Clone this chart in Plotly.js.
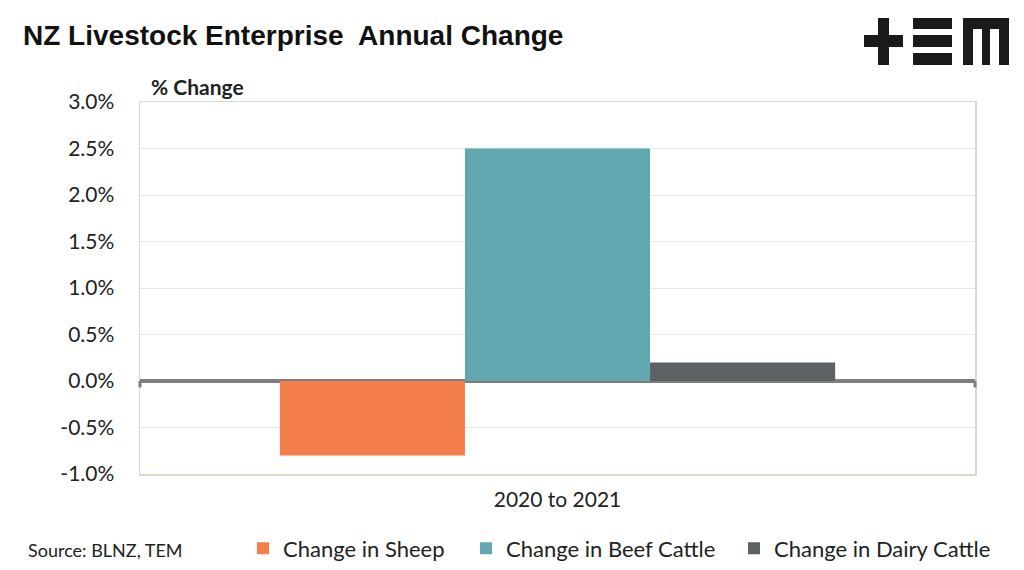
<!DOCTYPE html>
<html><head><meta charset="utf-8">
<script src="https://cdn.plot.ly/plotly-3.0.1.min.js"></script>
<style>body{margin:0;background:#fff}#c{width:1024px;height:570px;position:relative}#logo{position:absolute;left:0;top:0;pointer-events:none}</style>
</head><body>
<div id="c"><div id="plot" style="width:1024px;height:570px"></div>
<svg id="logo" width="1024" height="80" viewBox="0 0 1024 80">
<g fill="#1a1a1a">
<rect x="878" y="18" width="11" height="47"/>
<rect x="864" y="35" width="39" height="12"/>
<rect x="913" y="18" width="39" height="11"/>
<rect x="913" y="35" width="39" height="12"/>
<rect x="913" y="53" width="39" height="12"/>
<path d="M963 18 H1009 V65 H999 V29 H990 V65 H982 V29 H973 V65 H963 Z"/>
</g></svg>
</div>
<script>
const categories = ["2020 to 2021"];
const seriesNames = ["Change in Sheep", "Change in Beef Cattle", "Change in Dairy Cattle"];
const sheep = [-0.8];
const beef = [2.5];
const dairy = [0.2];
const colors = ["#f47f4c", "#62a8b1", "#5c6264"];
const tickVals = [-1, -0.5, 0, 0.5, 1, 1.5, 2, 2.5, 3];
const tickText = ["-1.0%", "-0.5%", "0.0%", "0.5%", "1.0%", "1.5%", "2.0%", "2.5%", "3.0%"];

const font = "Lato, 'Open Sans', sans-serif";
const legendIds = ["legend", "legend2", "legend3"];
const traces = [sheep, beef, dairy].map((v, i) => ({
  type: "bar", x: categories, y: v, name: seriesNames[i], legend: legendIds[i],
  marker: {color: colors[i], line: {width: 0}}, hoverinfo: "skip"
}));

function leg(xpx) {
  return {orientation: "h", xref: "container", yref: "container", x: xpx / 1024, xanchor: "left",
    y: 0.038, yanchor: "middle", font: {family: font, size: 22, color: "#222"}, itemwidth: 30,
    bgcolor: "rgba(0,0,0,0)"};
}

const layout = {
  width: 1024, height: 570,
  margin: {l: 140, r: 49, t: 102, b: 96, autoexpand: false},
  paper_bgcolor: "#fff", plot_bgcolor: "#fff",
  barmode: "group", bargap: 0.335, bargroupgap: 0,
  showlegend: true,
  legend: leg(243), legend2: leg(466), legend3: leg(734),
  xaxis: {showgrid: false, zeroline: false, showline: true, linecolor: "#d8dbc9", linewidth: 1.5, mirror: true,
    ticks: "", ticklabelstandoff: 6, tickfont: {family: font, size: 21, color: "#222"}, fixedrange: true},
  yaxis: {range: [-1, 3], tickvals: tickVals, ticktext: tickText, showgrid: true, gridcolor: "#e6e9dc", gridwidth: 1,
    zeroline: true, zerolinecolor: "#7f7f7f", zerolinewidth: 3.5,
    showline: true, linecolor: "#d8d8d8", linewidth: 1.5, mirror: true,
    ticks: "", ticklen: 0, ticklabelstandoff: 20, tickfont: {family: font, size: 21, color: "#222"}, fixedrange: true},
  annotations: [
    {text: "<b>NZ Livestock Enterprise  Annual Change</b>", xref: "paper", yref: "paper", x: -0.143, y: 1.18,
      xanchor: "left", yanchor: "middle", showarrow: false, font: {family: "Liberation Sans, Arial, sans-serif", size: 28, color: "#111"}},
    {text: "<b>% Change</b>", xref: "paper", yref: "paper", x: 0.011, y: 1.043,
      xanchor: "left", yanchor: "middle", showarrow: false, font: {family: font, size: 21, color: "#222"}},
    {text: "Source: BLNZ, TEM", xref: "paper", yref: "paper", x: -0.136, y: -0.205,
      xanchor: "left", yanchor: "middle", showarrow: false, font: {family: font, size: 18, color: "#222"}}
  ],
  shapes: [
    {type: "line", xref: "paper", yref: "y", x0: 0, x1: 0, y0: 0, y1: -0.07, line: {color: "#7f7f7f", width: 3}},
    {type: "line", xref: "paper", yref: "y", x0: 1, x1: 1, y0: 0, y1: -0.07, line: {color: "#7f7f7f", width: 3}}
  ]
};
Plotly.newPlot("plot", traces, layout, {staticPlot: true, displayModeBar: false});
</script>
</body></html>
